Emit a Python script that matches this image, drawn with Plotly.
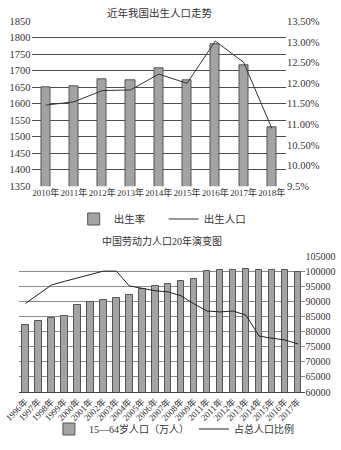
import plotly.graph_objects as go

# ---- Chart 1 data ----
years1 = ["2010年", "2011年", "2012年", "2013年", "2014年", "2015年", "2016年", "2017年", "2018年"]
birth_rate = [11.90, 11.93, 12.10, 12.08, 12.37, 12.07, 12.95, 12.43, 10.94]
birth_pop = [1596, 1606, 1640, 1642, 1690, 1662, 1790, 1726, 1525]
left_ticks1 = [1350, 1400, 1450, 1500, 1550, 1600, 1650, 1700, 1750, 1800, 1850]
right_tickvals1 = [9.5, 10.0, 10.5, 11.0, 11.5, 12.0, 12.5, 13.0, 13.5]
right_ticktext1 = ["9.5%", "10.00%", "10.50%", "11.00%", "11.50%", "12.00%", "12.50%", "13.00%", "13.50%"]

# ---- Chart 2 data ----
years2 = ["1996年", "1997年", "1998年", "1999年", "2000年", "2001年", "2002年", "2003年", "2004年",
          "2005年", "2006年", "2007年", "2008年", "2009年", "2011年", "2011年", "2012年", "2013年",
          "2014年", "2015年", "2016年", "2017年"]
labor_pop = [82245, 83448, 84338, 85157, 88910, 89849, 90302, 90976, 92184, 94197, 95068, 95833,
             96680, 97484, 99938, 100283, 100403, 100582, 100469, 100361, 100260, 99829]
labor_ratio = [89300, 92400, 95400, 96600, 97800, 98900, 100000, 100000, 95100, 94300, 93500, 93100,
               91800, 89100, 86800, 86500, 86800, 85400, 78500, 77800, 77200, 75900]

FONT = "Liberation Serif, Noto Sans CJK SC"
TXT = "#333333"
BAR_FILL = "#a3a3a3"
BAR_LINE = "#555555"

W, H = 341, 450

def px_x(p):
    return p / W

def px_y(p):
    return 1 - p / H

x2_idx = list(range(len(years2)))

fig = go.Figure()

fig.add_trace(go.Bar(
    x=years1, y=birth_rate, name="出生率", xaxis="x", yaxis="y",
    marker=dict(color=BAR_FILL, line=dict(color=BAR_LINE, width=1)),
    width=0.32, legend="legend",
))
fig.add_trace(go.Scatter(
    x=years1, y=birth_pop, name="出生人口", xaxis="x", yaxis="y2",
    mode="lines", line=dict(color="#333333", width=1), legend="legend",
))

fig.add_trace(go.Bar(
    x=x2_idx, y=labor_pop, name="15—64岁人口（万人）", xaxis="x2", yaxis="y3",
    marker=dict(color=BAR_FILL, line=dict(color=BAR_LINE, width=1)),
    width=0.5, legend="legend2",
))
fig.add_trace(go.Scatter(
    x=x2_idx, y=labor_ratio, name="占总人口比例", xaxis="x2", yaxis="y3",
    mode="lines", line=dict(color="#222222", width=1), legend="legend2",
))

fig.update_layout(
    template="none",
    width=W, height=H,
    margin=dict(l=0, r=0, t=0, b=0, autoexpand=False),
    paper_bgcolor="white", plot_bgcolor="white",
    font=dict(family=FONT, color=TXT, size=10),
    bargap=0,
    xaxis=dict(
        domain=[px_x(31.5), px_x(286)], anchor="y", automargin=False,
        type="category", tickangle=0, tickfont=dict(size=9, family=FONT, color=TXT),
        showgrid=False, showline=False, ticks="", zeroline=False,
    ),
    yaxis=dict(
        domain=[px_y(186.3), px_y(21.3)], anchor="x", side="right", automargin=False,
        range=[9.5, 13.5], tickvals=right_tickvals1, ticktext=right_ticktext1,
        showgrid=False, zeroline=False, showline=False, ticks="",
        tickfont=dict(size=10.5, family=FONT, color=TXT),
    ),
    yaxis2=dict(
        overlaying="y", anchor="x", side="left", automargin=False,
        range=[1350, 1850], tickvals=left_ticks1,
        showgrid=True, gridcolor="#4d4d4d", gridwidth=1,
        zeroline=False, showline=False, ticks="",
        tickfont=dict(size=10.5, family=FONT, color=TXT),
    ),
    xaxis2=dict(
        domain=[px_x(19), px_x(304.5)], anchor="y3", automargin=False,
        range=[-0.5, len(years2) - 0.5],
        tickvals=x2_idx, ticktext=years2, tickangle=-45,
        tickfont=dict(size=9, family=FONT, color=TXT),
        showgrid=False, zeroline=False, showline=True, linecolor="#444444", linewidth=1, ticks="",
    ),
    yaxis3=dict(
        domain=[px_y(392), px_y(256)], anchor="x2", side="right", automargin=False,
        range=[60000, 105000], dtick=5000, tickformat="d",
        showgrid=True, gridcolor="#8a8a8a", gridwidth=1,
        zeroline=False, showline=False, ticks="",
        tickfont=dict(size=10, family=FONT, color=TXT),
    ),
    legend=dict(
        orientation="h", x=0.48, xanchor="center", y=px_y(219), yanchor="middle",
        font=dict(size=10.5, family=FONT, color=TXT), bgcolor="rgba(0,0,0,0)",
        traceorder="normal", itemwidth=30, entrywidth=45, entrywidthmode="pixels",
    ),
    legend2=dict(
        orientation="h", x=0.51, xanchor="center", y=px_y(429), yanchor="middle",
        font=dict(size=10, family=FONT, color=TXT), bgcolor="rgba(0,0,0,0)",
        traceorder="normal", itemwidth=30,
    ),
    annotations=[
        dict(text="近年我国出生人口走势", x=px_x(160), y=px_y(13), xref="paper", yref="paper",
             showarrow=False, xanchor="center", yanchor="middle",
             font=dict(size=10.5, family=FONT, color=TXT)),
        dict(text="中国劳动力人口20年演变图", x=px_x(162), y=px_y(241.5), xref="paper", yref="paper",
             showarrow=False, xanchor="center", yanchor="middle",
             font=dict(size=10, family=FONT, color=TXT)),
    ],
    showlegend=True,
)

fig.write_html("out.html")
